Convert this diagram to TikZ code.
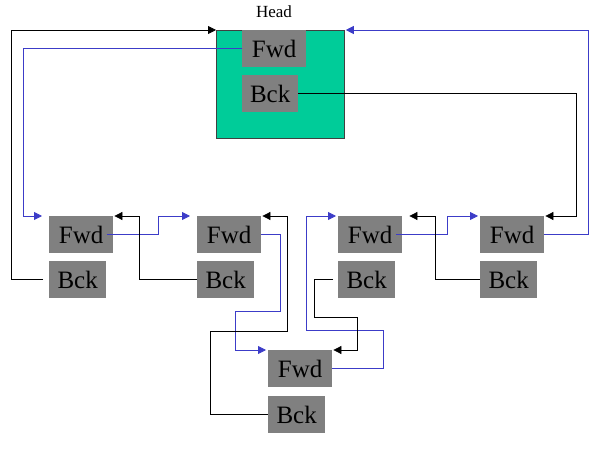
\documentclass[tikz,border=0pt]{standalone}
\usepackage{fontspec}
\setmainfont{Liberation Serif}
\usetikzlibrary{arrows.meta}
\definecolor{boxgray}{RGB}{128,128,128}
\definecolor{headgreen}{RGB}{0,204,153}
\definecolor{linkblue}{RGB}{60,60,200}
\tikzset{
  cell/.style={fill=boxgray, inner sep=0pt, minimum height=37pt, font=\fontsize{25}{25}\selectfont, anchor=north west},
  fwdcell/.style={cell, minimum width=64pt},
  bckcell/.style={cell, minimum width=57pt},
  blk/.style={draw=black, line width=0.8pt, -{Triangle[length=8pt,width=8pt]}},
  blu/.style={draw=linkblue, line width=0.8pt, -{Triangle[length=8pt,width=8pt]}},
}
\begin{document}
\begin{tikzpicture}[x=1pt,y=-1pt]
\useasboundingbox (0,0) rectangle (600,449);
% head
\node[draw=black!75, line width=0.8pt, fill=headgreen, minimum width=128pt, minimum height=108pt, inner sep=0pt, anchor=north west] (head) at (216,30) {};
\node[font=\fontsize{17}{17}\selectfont] (headlbl) at (274,12) {Head};
\node[fwdcell] (hf) at (242,30) {Fwd};
\node[bckcell, minimum width=56pt] (hb) at (242,75) {Bck};
% list nodes
\node[fwdcell] (f1) at (49,216) {Fwd};
\node[bckcell] (b1) at (49,261) {Bck};
\node[fwdcell] (f2) at (197,216) {Fwd};
\node[bckcell] (b2) at (197,261) {Bck};
\node[fwdcell] (f3) at (338,216) {Fwd};
\node[bckcell] (b3) at (338,261) {Bck};
\node[fwdcell] (f4) at (480,216) {Fwd};
\node[bckcell] (b4) at (480,261) {Bck};
\node[fwdcell] (f5) at (268,350) {Fwd};
\node[bckcell] (b5) at (268,396) {Bck};
% connectors
\draw[blk] ([xshift=-6]b1.west) -- ++(-32,0) |- (head.north west);
\draw[blu] (hf.west) -- ++(-219,0) |- ([xshift=-7]f1.north west);
\draw[blk] (hb.east) -| ([xshift=32]f4.north east) -- ([xshift=1]f4.north east);
\draw[blu] (f4.east) -- ++(44,0) |- ([xshift=1]head.north east);
\draw[blu] ([xshift=-6]f1.east) -- ++(51,0) |- ([xshift=-7]f2.north west);
\draw[blk] (b2.west) -- ++(-58,0) |- ([xshift=1]f1.north east);
\draw[blu] (f2.east) -- ++(19,0) -- ++(0,77) -- ++(-45,0) |- ([xshift=-2]f5.north west);
\draw[blk] (b5.west) -- ++(-58,0) -- ++(0,-83) -- ++(77,0) |- ([xshift=1]f2.north east);
\draw[blu] (f5.east) -- ++(51,0) -- ++(0,-38) -- ++(-77,0) |- ([xshift=-2]f3.north west);
\draw[blk] ([xshift=-5]b3.west) -- ++(-19,0) -- ++(0,38) -- ++(43,0) |- ([xshift=1]f5.north east);
\draw[blu] ([xshift=-6]f3.east) -- ++(51,0) |- ([xshift=-2]f4.north west);
\draw[blk] (b4.west) -- ++(-45,0) |- ([xshift=7]f3.north east);
\end{tikzpicture}
\end{document}
